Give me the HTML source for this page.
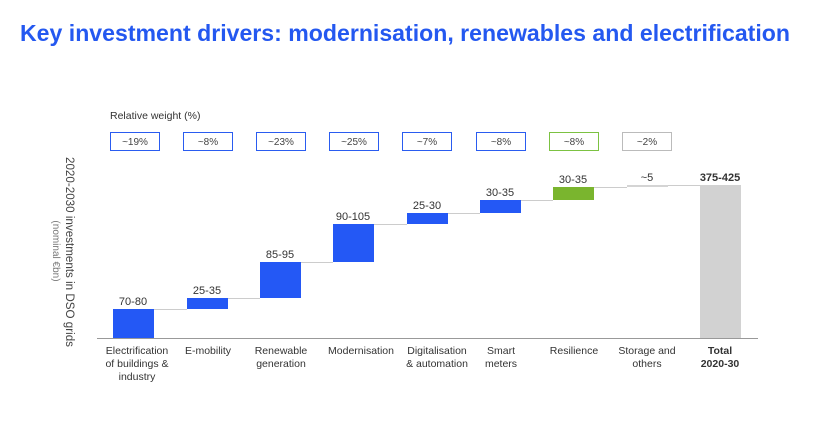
<!DOCTYPE html>
<html><head><meta charset="utf-8"><style>
html,body{margin:0;padding:0;background:#fff;width:840px;height:430px;overflow:hidden}
svg{display:block;font-family:"Liberation Sans",sans-serif}
</style></head><body>
<svg width="840" height="430" viewBox="0 0 840 430">
<text x="20" y="41" font-size="23" font-weight="bold" fill="#2458f0" textLength="770" lengthAdjust="spacingAndGlyphs">Key investment drivers: modernisation, renewables and electrification</text>
<text x="110" y="119" font-size="10.5" fill="#333">Relative weight (%)</text>
<g font-size="10" fill="#444" text-anchor="middle">
<rect x="110.5" y="132.5" width="49" height="18" fill="none" stroke="#2a5cf0"/><text x="135" y="145">~19%</text>
<rect x="183.5" y="132.5" width="49" height="18" fill="none" stroke="#2a5cf0"/><text x="208" y="145">~8%</text>
<rect x="256.5" y="132.5" width="49" height="18" fill="none" stroke="#2a5cf0"/><text x="281" y="145">~23%</text>
<rect x="329.5" y="132.5" width="49" height="18" fill="none" stroke="#2a5cf0"/><text x="354" y="145">~25%</text>
<rect x="402.5" y="132.5" width="49" height="18" fill="none" stroke="#2a5cf0"/><text x="427" y="145">~7%</text>
<rect x="476.5" y="132.5" width="49" height="18" fill="none" stroke="#2a5cf0"/><text x="501" y="145">~8%</text>
<rect x="549.5" y="132.5" width="49" height="18" fill="none" stroke="#7cc242"/><text x="574" y="145">~8%</text>
<rect x="622.5" y="132.5" width="49" height="18" fill="none" stroke="#bbb"/><text x="647" y="145">~2%</text>
</g>
<g stroke="#ccc" stroke-width="1">
<line x1="154" y1="309.5" x2="187" y2="309.5"/>
<line x1="228" y1="298.5" x2="260" y2="298.5"/>
<line x1="301" y1="262.5" x2="333" y2="262.5"/>
<line x1="374" y1="224.5" x2="407" y2="224.5"/>
<line x1="448" y1="213.5" x2="480" y2="213.5"/>
<line x1="521" y1="200.5" x2="553" y2="200.5"/>
<line x1="594" y1="187.5" x2="627" y2="187.5"/>
<line x1="668" y1="185.5" x2="700" y2="185.5"/>
</g>
<rect x="113" y="309" width="41" height="29" fill="#2458f5"/>
<rect x="187" y="298" width="41" height="11" fill="#2458f5"/>
<rect x="260" y="262" width="41" height="36" fill="#2458f5"/>
<rect x="333" y="224" width="41" height="38" fill="#2458f5"/>
<rect x="407" y="213" width="41" height="11" fill="#2458f5"/>
<rect x="480" y="200" width="41" height="13" fill="#2458f5"/>
<rect x="553" y="187" width="41" height="13" fill="#7ab52e"/>
<rect x="627" y="185" width="41" height="2" fill="#d4d4d4"/>
<rect x="700" y="185" width="41" height="153" fill="#d2d2d2"/>
<line x1="97" y1="338.5" x2="758" y2="338.5" stroke="#999" stroke-width="1"/>
<g font-size="11" fill="#333" text-anchor="middle">
<text x="133" y="305">70-80</text>
<text x="207" y="294">25-35</text>
<text x="280" y="258">85-95</text>
<text x="353" y="220">90-105</text>
<text x="427" y="209">25-30</text>
<text x="500" y="196">30-35</text>
<text x="573" y="183">30-35</text>
<text x="647" y="181">~5</text>
<text x="720" y="181" font-weight="bold">375-425</text>
</g>
<g font-size="10.5" fill="#333" text-anchor="middle">
<text x="137" y="354">Electrification</text><text x="137" y="367">of buildings &amp;</text><text x="137" y="380">industry</text>
<text x="208" y="354">E-mobility</text>
<text x="281" y="354">Renewable</text><text x="281" y="367">generation</text>
<text x="361" y="354">Modernisation</text>
<text x="437" y="354">Digitalisation</text><text x="437" y="367">&amp; automation</text>
<text x="501" y="354">Smart</text><text x="501" y="367">meters</text>
<text x="574" y="354">Resilience</text>
<text x="647" y="354">Storage and</text><text x="647" y="367">others</text>
<text x="720" y="354" font-weight="bold">Total</text><text x="720" y="367" font-weight="bold">2020-30</text>
</g>
<g text-anchor="middle" fill="#444">
<text transform="translate(66,252) rotate(90)" font-size="11.5" textLength="190" lengthAdjust="spacingAndGlyphs">2020-2030 investments in DSO grids</text>
<text transform="translate(53,251) rotate(90)" font-size="10" fill="#777">(nominal €bn)</text>
</g>
</svg>
</body></html>
